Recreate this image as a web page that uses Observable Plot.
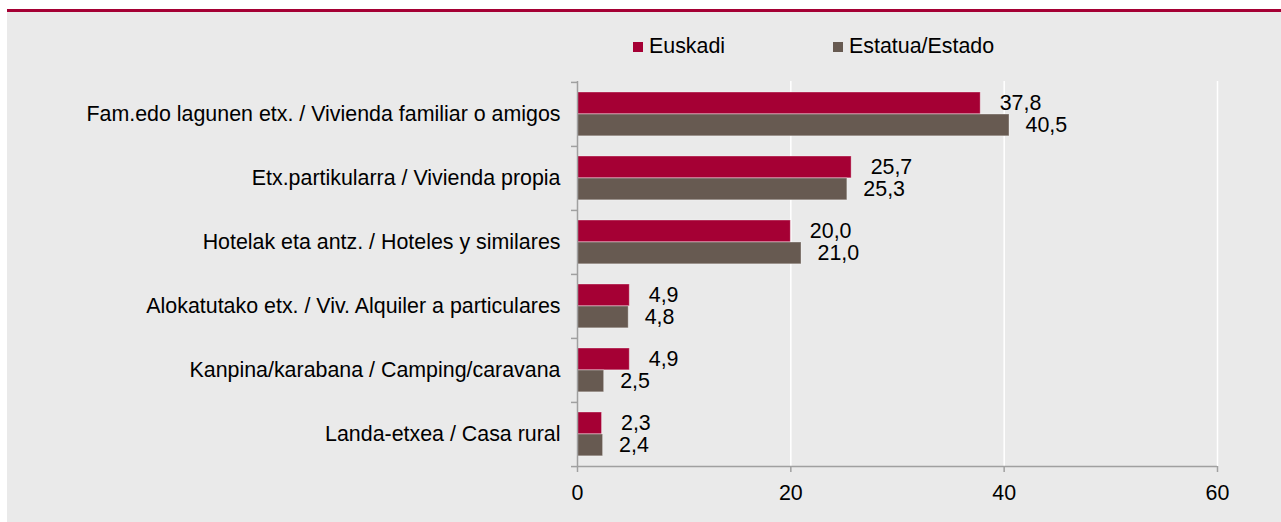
<!DOCTYPE html>
<html>
<head>
<meta charset="utf-8">
<script src="https://cdn.jsdelivr.net/npm/d3@7"></script>
<script src="https://cdn.jsdelivr.net/npm/@observablehq/plot@0.6"></script>
<style>
  html, body { margin: 0; padding: 0; background: #ffffff; }
  body { width: 1281px; height: 522px; overflow: hidden; position: relative; font-family: "Liberation Sans", Arial, sans-serif; }
  #panel { position: absolute; left: 7px; top: 9px; width: 1274px; height: 510px; border-top: 3px solid #a50034; background: #eaeaea; }
  #legend { position: absolute; left: 0; top: 0; width: 100%; height: 40px; font-size: 21.4px; color: #000; }
  .item { position: absolute; top: 22px; display: flex; align-items: center; white-space: nowrap; }
  .sw { width: 10px; height: 10px; margin-right: 6px; }
  #chart { position: absolute; left: 0; top: 0; }
</style>
</head>
<body>
<div id="panel">
  <div id="chart"></div>
  <div id="legend"></div>
</div>
<script>
const categories = [
  "Fam.edo lagunen etx. / Vivienda familiar o amigos",
  "Etx.partikularra / Vivienda propia",
  "Hotelak eta antz. / Hoteles y similares",
  "Alokatutako etx. / Viv. Alquiler a particulares",
  "Kanpina/karabana / Camping/caravana",
  "Landa-etxea / Casa rural"
];
const seriesNames = ["Euskadi", "Estatua/Estado"];
const euskadi = [37.8, 25.7, 20.0, 4.9, 4.9, 2.3];
const estado = [40.5, 25.3, 21.0, 4.8, 2.5, 2.4];
const xTicks = [0, 20, 40, 60];
const colors = ["#a50034", "#675a51"];

const data = categories.map((c, i) => ({cat: c, euskadi: euskadi[i], estado: estado[i]}));
const fmt = v => v.toFixed(1).replace(".", ",");

const W = 1274, H = 510, mt = 69, mb = 56, ml = 570, mr = 64;
const step = (H - mt - mb) / categories.length;
const barH = 22, pad = 10;
const axisColor = "#a0a0a0";
const fs = 21.4;

const chart = Plot.plot({
  width: W, height: H,
  marginTop: mt, marginBottom: mb, marginLeft: ml, marginRight: mr,
  style: {background: "transparent", fontFamily: "'Liberation Sans', Arial, sans-serif", fontSize: fs + "px", color: "#000", overflow: "visible"},
  x: {domain: [0, 60], ticks: xTicks},
  y: {domain: categories, padding: 0},
  marks: [
    Plot.gridX(xTicks.filter(t => t > 0), {stroke: "#ffffff", strokeOpacity: 1, strokeWidth: 1.5}),
    Plot.barX(data, {x: "euskadi", y: "cat", fill: colors[0], stroke: "#ffffff", strokeOpacity: 0.35, strokeWidth: 1, insetTop: pad, insetBottom: step - pad - barH}),
    Plot.barX(data, {x: "estado", y: "cat", fill: colors[1], stroke: "#ffffff", strokeOpacity: 0.35, strokeWidth: 1, insetTop: pad + barH, insetBottom: step - pad - 2 * barH}),
    Plot.text(data, {x: "euskadi", y: "cat", text: d => fmt(d.euskadi), textAnchor: "start", dx: 19, dy: pad + barH / 2 - step / 2, fontSize: fs, fill: "#000"}),
    Plot.text(data, {x: "estado", y: "cat", text: d => fmt(d.estado), textAnchor: "start", dx: 16, dy: pad + barH * 1.5 - step / 2, fontSize: fs, fill: "#000"}),
    Plot.ruleX([0], {stroke: axisColor, strokeWidth: 1.5}),
    Plot.ruleY([categories[categories.length - 1]], {dy: step / 2, stroke: axisColor, strokeWidth: 1.5}),
    Plot.axisY({tickSize: 0, tickPadding: 17, fontSize: fs, label: null}),
    Plot.axisY({ticks: categories, tickFormat: null, tickSize: 6, dy: -step / 2, stroke: axisColor, strokeWidth: 1.5, label: null}),
    Plot.axisY({ticks: [categories[categories.length - 1]], tickFormat: null, tickSize: 6, dy: step / 2, stroke: axisColor, strokeWidth: 1.5, label: null}),
    Plot.axisX({ticks: xTicks, tickSize: 6, tickPadding: 12, stroke: axisColor, strokeWidth: 1.5, fontSize: fs, label: null, fill: "#000"})
  ]
});
document.getElementById("chart").appendChild(chart);

const legend = document.getElementById("legend");
const legendX = [626, 826];
seriesNames.forEach((name, i) => {
  const it = document.createElement("div");
  it.className = "item";
  it.style.left = legendX[i] + "px";
  const sw = document.createElement("span");
  sw.className = "sw";
  sw.style.background = colors[i];
  const tx = document.createElement("span");
  tx.textContent = name;
  it.appendChild(sw);
  it.appendChild(tx);
  legend.appendChild(it);
});
</script>
</body>
</html>
